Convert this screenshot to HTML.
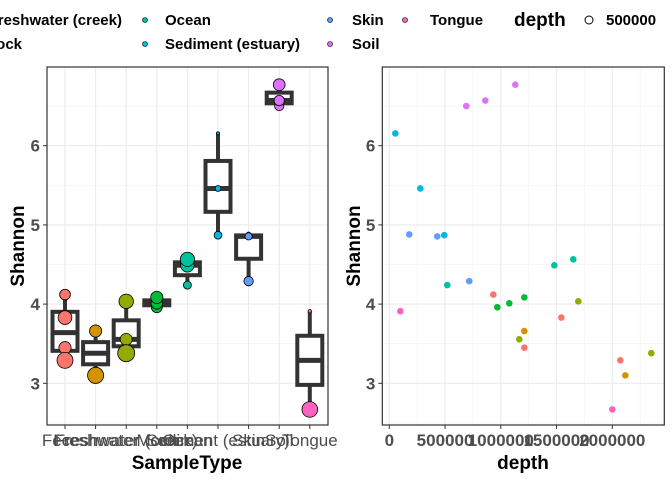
<!DOCTYPE html>
<html><head><meta charset="utf-8">
<style>
html,body{margin:0;padding:0;background:#fff}
svg{display:block;font-family:"Liberation Sans",Arial,sans-serif}
</style></head>
<body>
<svg id="chart" width="672" height="480" viewBox="0 0 672 480">
<g id="legend" font-weight="bold" font-size="15" fill="#000">
  <text x="122" y="25" text-anchor="end">Freshwater (creek)</text>
  <text x="22" y="49" text-anchor="end">Mock</text>
  <circle cx="145" cy="20" r="2.5" fill="#00C19F" stroke="#000" stroke-width="0.6"/>
  <text x="165" y="25">Ocean</text>
  <circle cx="145" cy="44" r="2.5" fill="#00B9E3" stroke="#000" stroke-width="0.6"/>
  <text x="165" y="49">Sediment (estuary)</text>
  <circle cx="330" cy="20" r="2.5" fill="#619CFF" stroke="#000" stroke-width="0.6"/>
  <text x="352" y="25">Skin</text>
  <circle cx="330" cy="44" r="2.5" fill="#DB72FB" stroke="#000" stroke-width="0.6"/>
  <text x="352" y="49">Soil</text>
  <circle cx="405" cy="20" r="2.5" fill="#FF61C3" stroke="#000" stroke-width="0.6"/>
  <text x="430" y="25">Tongue</text>
  <text x="514" y="26" font-size="19">depth</text>
  <circle cx="589" cy="20" r="4" fill="#fff" stroke="#000" stroke-width="1"/>
  <text x="606" y="25">500000</text>
</g>
<g id="left"></g>
<g id="right"></g>
<text x="187" y="469" text-anchor="middle" font-weight="bold" font-size="19">SampleType</text>
<text x="523" y="469" text-anchor="middle" font-weight="bold" font-size="19">depth</text>
<text transform="translate(24,246) rotate(-90)" text-anchor="middle" font-weight="bold" font-size="19">Shannon</text>
<text transform="translate(360,246) rotate(-90)" text-anchor="middle" font-weight="bold" font-size="19">Shannon</text>
</svg>
<script>
const categories = ["Feces","Freshwater","Freshwater (creek)","Mock","Ocean","Sediment (estuary)","Skin","Soil","Tongue"];
const catColors = ["#F8766D","#D39200","#93AA00","#00BA38","#00C19F","#00B9E3","#619CFF","#DB72FB","#FF61C3"];
const sampleType = [7,7,7,5,5,5,6,6,6,8,8,0,0,0,0,3,3,3,1,1,2,2,2,4,4,4];
const depth = [690000,861000,1130000,54000,278000,493000,179000,430000,717000,99000,2000000,933000,1543000,1211000,2072000,969000,1076000,1211000,1211000,2117000,1166000,1695000,2350000,520000,1480000,1650000];
const shannon = [6.50,6.57,6.77,6.155,5.46,4.87,4.88,4.855,4.29,3.91,2.67,4.12,3.83,3.45,3.29,3.96,4.01,4.085,3.66,3.10,3.555,4.035,3.38,4.24,4.49,4.565];
const yTicks = [3,4,5,6];
const xTicksDepth = [0,500000,1000000,1500000,2000000];
const NS="http://www.w3.org/2000/svg";
function mk(p,tag,a){const e=document.createElementNS(NS,tag);for(const k in a)e.setAttribute(k,a[k]);p.appendChild(e);return e;}
const yS=v=>383.3-(v-3)*79.2;
const L={x0:47,x1:328,y0:67,y1:425}, R={x0:382.3,x1:664.3,y0:67,y1:425};
const xCat=i=>65+i*30.6;
const xD=d=>389.3+d*111.5e-6;
const left=document.getElementById('left'), right=document.getElementById('right');
function grid(g,P,vx,minorX){
  [2.5,3.5,4.5,5.5,6.5].forEach(v=>{const l=mk(g,'line',{x1:P.x0,x2:P.x1,y1:yS(v),y2:yS(v),stroke:'#f0f0f0','stroke-width':0.6});
  
  });
  minorX.forEach(x=>{const l=mk(g,'line',{x1:x,x2:x,y1:P.y0,y2:P.y1,stroke:'#f0f0f0','stroke-width':0.6});
  
  });
  yTicks.forEach(v=>{const l=mk(g,'line',{x1:P.x0,x2:P.x1,y1:yS(v),y2:yS(v),stroke:'#ebebeb','stroke-width':1.1});
  
  
  const t=mk(g,'line',{x1:P.x0-4,x2:P.x0,y1:yS(v),y2:yS(v),stroke:'#333','stroke-width':1});
  
  
  const tx=mk(g,'text',{x:P.x0-7,y:yS(v)+6,'text-anchor':'end','font-size':17,'font-weight':'bold',fill:'#4d4d4d'});
  tx.textContent=v;
  
  });
  vx.forEach(x=>{const l=mk(g,'line',{x1:x,x2:x,y1:P.y0,y2:P.y1,stroke:'#ebebeb','stroke-width':1.1});
  
  });
}
grid(left,L,categories.map((c,i)=>xCat(i)),[]);
function q(a,p){const s=[...a].sort((x,y)=>x-y);const h=(s.length-1)*p;const lo=Math.floor(h);return s[lo]+(h-lo)*((s[Math.min(lo+1,s.length-1)])-s[lo]);}
categories.forEach((c,i)=>{
  const vals=shannon.filter((v,k)=>sampleType[k]===i);
  if(!vals.length)return;
  const q1=q(vals,.25),med=q(vals,.5),q3=q(vals,.75),iqr=q3-q1;
  const lo=Math.min(...vals.filter(v=>v>=q1-1.5*iqr)),hi=Math.max(...vals.filter(v=>v<=q3+1.5*iqr));
  const x=xCat(i),w=12.5;
  const g=mk(left,'g',{stroke:'#333','stroke-width':4,fill:'#fff'});
  
  
  mk(g,'line',{x1:x,x2:x,y1:yS(hi),y2:yS(q3)});
  mk(g,'line',{x1:x,x2:x,y1:yS(q1),y2:yS(lo)});
  mk(g,'rect',{x:x-w,y:yS(q3),width:2*w,height:Math.max(yS(q1)-yS(q3),0.5)});
  mk(g,'line',{x1:x-w,x2:x+w,y1:yS(med),y2:yS(med),'stroke-width':5});
});
shannon.forEach((v,k)=>{
  const r=Math.max(1.6,Math.sqrt(depth[k]/2350000)*8.5);
  const c=mk(left,'circle',{cx:xCat(sampleType[k]),cy:yS(v),r:r,fill:catColors[sampleType[k]],stroke:'#000','stroke-width':0.8});
  
  
});
categories.forEach((c,i)=>{
  const t=mk(left,'line',{x1:xCat(i),x2:xCat(i),y1:L.y1,y2:L.y1+4,stroke:'#333','stroke-width':1});
  
  
  const tx=mk(left,'text',{x:xCat(i),y:L.y1+21,'text-anchor':'middle','font-size':17,fill:'#4d4d4d'});
  tx.textContent=c;
  
  
});
const bl=mk(left,'rect',{x:L.x0,y:L.y0,width:L.x1-L.x0,height:L.y1-L.y0,fill:'none',stroke:'#333','stroke-width':1.2});


grid(right,R,xTicksDepth.map(xD),[250000,750000,1250000,1750000,2250000].map(xD));
shannon.forEach((v,k)=>{
  const c=mk(right,'circle',{cx:xD(depth[k]),cy:yS(v),r:3.3,fill:catColors[sampleType[k]]});
  
  
});
xTicksDepth.forEach(d=>{
  const t=mk(right,'line',{x1:xD(d),x2:xD(d),y1:R.y1,y2:R.y1+4,stroke:'#333','stroke-width':1});
  
  
  const tx=mk(right,'text',{x:xD(d),y:R.y1+21,'text-anchor':'middle','font-size':17,'font-weight':'bold',fill:'#4d4d4d'});
  tx.textContent=d;
  
  
});
const br=mk(right,'rect',{x:R.x0,y:R.y0,width:R.x1-R.x0,height:R.y1-R.y0,fill:'none',stroke:'#333','stroke-width':1.2});


</script>
</body></html>
